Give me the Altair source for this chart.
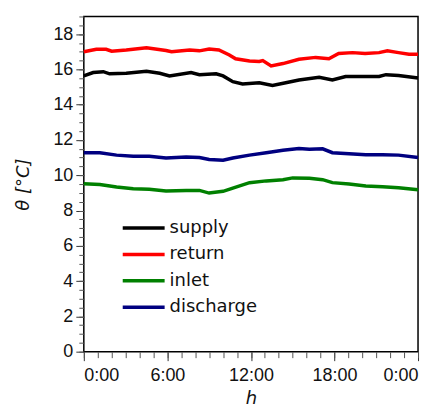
import altair as alt
import pandas as pd

series_names = ["supply", "return", "inlet", "discharge"]
series_colors = ["#000000", "#ff0000", "#008000", "#000080"]

supply_h = [0, 0.67, 1.4, 1.85, 3.05, 4.5, 5.45, 6.15, 7.7, 8.3, 9.5, 10, 10.7, 11.4,
            12.6, 13.55, 14.5, 15.45, 16.9, 17.85, 18.8, 20.25, 21.2, 21.7, 22.6, 24]
supply_v = [15.63, 15.82, 15.87, 15.75, 15.78, 15.9, 15.78, 15.63, 15.82, 15.7, 15.75, 15.63,
            15.3, 15.17, 15.24, 15.09, 15.24, 15.4, 15.55, 15.4, 15.6, 15.6, 15.6, 15.7, 15.65, 15.51]

return_h = [0, 0.9, 1.6, 2.0, 3.05, 4.5, 5.9, 6.3, 7.6, 8.3, 9.0, 9.7, 10.45, 10.9, 11.9,
            12.6, 12.85, 13.45, 14.3, 15.45, 16.65, 17.6, 18.3, 19.3, 20.2, 21.2, 21.8, 22.6, 23.35, 24]
return_v = [17.0, 17.14, 17.14, 17.03, 17.1, 17.23, 17.07, 17.0, 17.1, 17.05, 17.15, 17.1,
            16.82, 16.6, 16.48, 16.45, 16.5, 16.2, 16.33, 16.57, 16.68, 16.6, 16.9, 16.95,
            16.9, 16.95, 17.05, 16.95, 16.86, 16.86]

inlet_h = [0, 1.15, 2.35, 3.55, 4.7, 5.9, 7.35, 8.3, 9.0, 10, 10.7, 11.9, 13.1, 14.3, 15.0,
           16.2, 17.15, 17.85, 19.05, 20.25, 21.45, 22.6, 24]
inlet_v = [9.52, 9.48, 9.33, 9.24, 9.2, 9.11, 9.14, 9.14, 8.99, 9.09, 9.27, 9.58, 9.68, 9.75,
           9.85, 9.83, 9.75, 9.58, 9.5, 9.39, 9.35, 9.29, 9.18]

discharge_h = [0, 1.15, 2.35, 3.55, 4.7, 5.9, 7.35, 8.3, 9.0, 10, 10.7, 11.9, 13.1, 14.3,
               15.45, 16.2, 17.15, 17.85, 19.05, 20.25, 21.45, 22.6, 24]
discharge_v = [11.27, 11.27, 11.14, 11.08, 11.08, 10.98, 11.04, 11.0, 10.89, 10.85, 10.98,
               11.14, 11.28, 11.42, 11.51, 11.48, 11.5, 11.28, 11.22, 11.16, 11.16, 11.14, 11.0]

x_major = [0, 6, 12, 18, 24]
x_minor = list(range(0, 25))
y_major = list(range(0, 19, 2))
y_minor = [i * 0.5 for i in range(0, 39)]

rows = []
for name, hs, vs in [("supply", supply_h, supply_v), ("return", return_h, return_v),
                     ("inlet", inlet_h, inlet_v), ("discharge", discharge_h, discharge_v)]:
    for h, v in zip(hs, vs):
        rows.append({"h": h, "theta": v, "series": name})
df = pd.DataFrame(rows)

xscale = alt.Scale(domain=[0, 24], nice=False, zero=False)
yscale = alt.Scale(domain=[0, 19], nice=False)
label_expr = "datum.value == 24 ? '0:00' : datum.value + ':00'"
tick_font = "Liberation Sans"

lines = alt.Chart(df).mark_line(strokeWidth=3.5).encode(
    x=alt.X("h:Q", scale=xscale,
            axis=alt.Axis(orient="bottom", values=x_major, labelExpr=label_expr,
                          tickSize=9, tickColor="#333333", labelFontSize=18,
                          labelFont=tick_font, labelColor="#111111", labelPadding=6,
                          domain=False, grid=False, title="h", titleFontStyle="italic",
                          titleFontWeight="normal", titleFontSize=18,
                          titleFont="DejaVu Sans", titlePadding=5, titleColor="#111111")),
    y=alt.Y("theta:Q", scale=yscale,
            axis=alt.Axis(orient="left", values=y_major, tickSize=8, tickColor="#333333",
                          labelFontSize=18, labelFont=tick_font, labelColor="#111111",
                          labelPadding=3, domain=False, grid=False, title="θ  [°C]",
                          titleFontStyle="italic", titleFontWeight="normal",
                          titleFontSize=18, titleFont="DejaVu Sans", titlePadding=20,
                          titleColor="#111111")),
    color=alt.Color("series:N", scale=alt.Scale(domain=series_names, range=series_colors),
                    sort=series_names,
                    legend=alt.Legend(orient="none", legendX=51, legendY=203, title=None,
                                      symbolType="M-3,0H3", symbolSize=196,
                                      symbolStrokeWidth=3.5, labelFontSize=18,
                                      labelFont="DejaVu Sans", labelColor="#111111",
                                      labelOffset=17, rowPadding=8.5)),
    detail="series:N",
)

minor = alt.Chart(df).mark_point(opacity=0).encode(
    x=alt.X("h:Q", scale=xscale,
            axis=alt.Axis(orient="bottom", values=x_minor, labels=False, tickSize=6,
                          tickColor="#555555", domain=False, grid=False, title=None)),
    y=alt.Y("theta:Q", scale=yscale,
            axis=alt.Axis(orient="left", values=y_minor, labels=False, tickSize=5,
                          tickColor="#555555", domain=False, grid=False, title=None)),
)

chart = alt.layer(lines, minor).resolve_axis(x="independent", y="independent").properties(
    width=335, height=336,
    padding={"left": 6, "top": 7, "right": 5, "bottom": 5},
    background="#ffffff",
    view=alt.ViewBackground(stroke="#000000", strokeWidth=1.5, fill="#ffffff"),
)

chart.save("out.html", embed_options={"renderer": "svg", "actions": False})
